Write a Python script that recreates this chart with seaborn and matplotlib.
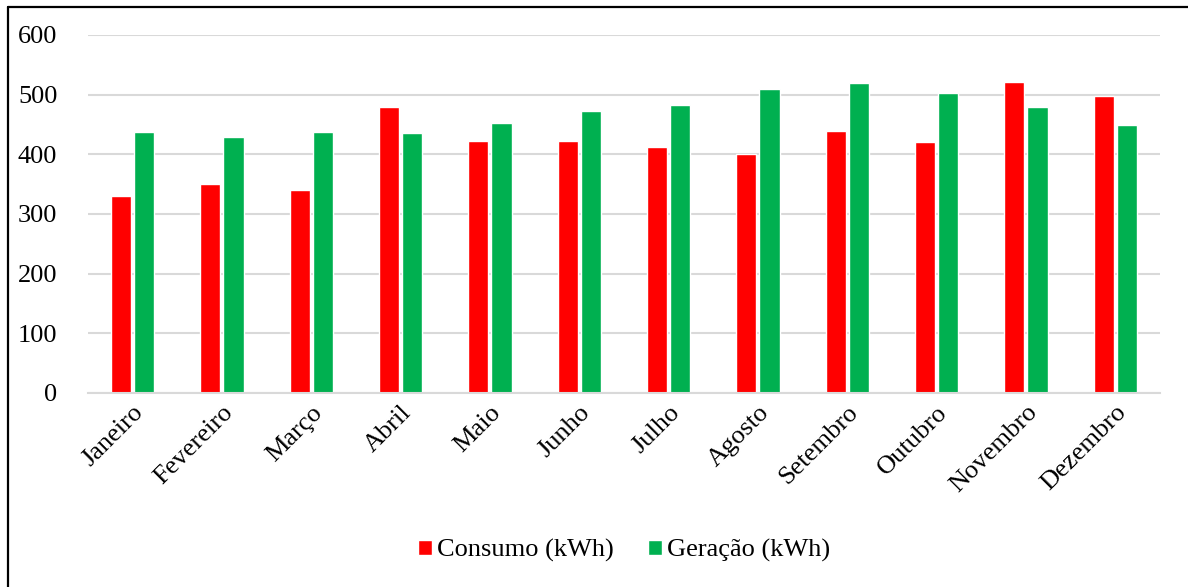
import numpy as np
import pandas as pd
import matplotlib
matplotlib.use("Agg")
import matplotlib.pyplot as plt
import seaborn as sns
from matplotlib.lines import Line2D

meses = ['Janeiro', 'Fevereiro', 'Março', 'Abril', 'Maio', 'Junho',
         'Julho', 'Agosto', 'Setembro', 'Outubro', 'Novembro', 'Dezembro']
consumo = [330, 350, 340, 480, 422, 422, 413, 400, 439, 421, 521, 498]
geracao = [437, 429, 437, 436, 453, 472, 483, 510, 519, 502, 479, 449]
series = ['Consumo (kWh)', 'Geração (kWh)']
cores = ['#FF0000', '#00B050']
yticks = [0, 100, 200, 300, 400, 500, 600]


def main():
    sns.set_style("white")
    plt.rcParams['font.family'] = ['Liberation Serif', 'DejaVu Serif']

    df = pd.DataFrame({
        'mes': meses * 2,
        'valor': consumo + geracao,
        'serie': [series[0]] * len(meses) + [series[1]] * len(meses),
    })

    fig = plt.figure(figsize=(11.88, 5.87), dpi=100)
    ax = fig.add_axes([0.074, 0.3305, 0.9024, 0.61])

    sns.barplot(data=df, x='mes', y='valor', hue='serie', order=meses,
                hue_order=series, palette=cores, width=0.52, gap=0.13,
                saturation=1, ax=ax, legend=True)

    ax.set_xlim(-0.5, 11.5)
    ax.set_ylim(0, 600)
    ax.set_yticks(yticks)
    ax.yaxis.grid(True, color='#d9d9d9', linewidth=1.5)
    ax.set_axisbelow(True)
    for s in ['top', 'right', 'left']:
        ax.spines[s].set_visible(False)
    ax.spines['bottom'].set_color('#d9d9d9')
    ax.spines['bottom'].set_linewidth(1.5)
    ax.tick_params(axis='both', length=0, labelsize=19, labelcolor='black')
    ax.tick_params(axis='y', pad=22)
    ax.tick_params(axis='x', pad=6)
    ax.set_xlabel('')
    ax.set_ylabel('')
    plt.setp(ax.get_xticklabels(), rotation=45, ha='right',
             rotation_mode='anchor')

    ax.legend(loc='center', bbox_to_anchor=(0.5, -0.44), ncol=2,
              frameon=False, fontsize=19, handlelength=0.53,
              handleheight=0.53, handletextpad=0.2, columnspacing=1.3,
              labelcolor='black')

    # chart frame: only top and left edges show in the source image
    fig.add_artist(Line2D([8 / 1188, 1.0], [1 - 6.5 / 587] * 2,
                          transform=fig.transFigure, color='black', lw=1.6))
    fig.add_artist(Line2D([8 / 1188] * 2, [0.0, 1 - 6.5 / 587],
                          transform=fig.transFigure, color='black', lw=1.6))

    fig.savefig('out.png', dpi=100)


if __name__ == "__main__":
    main()
